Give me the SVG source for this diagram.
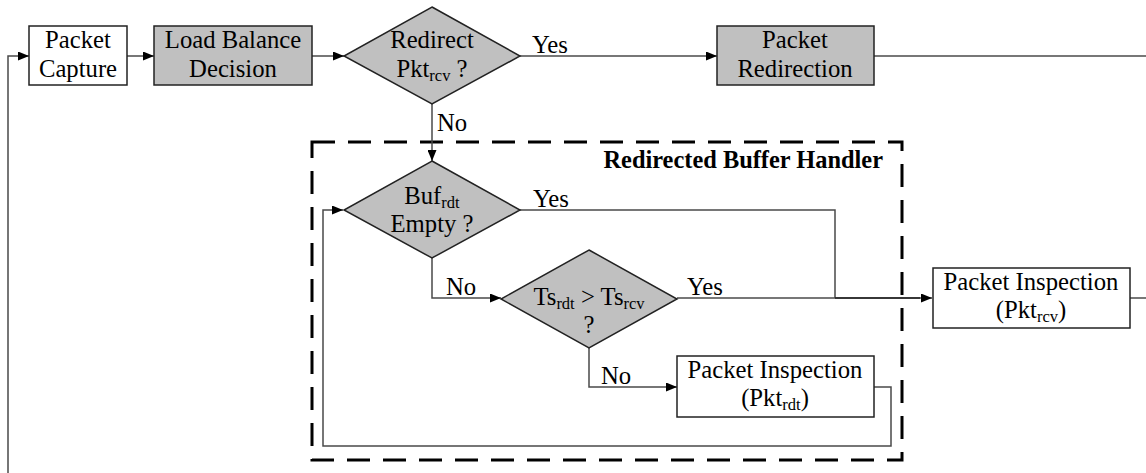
<svg xmlns="http://www.w3.org/2000/svg" width="1146" height="473" viewBox="0 0 1146 473">
<style>
text{font-family:'Liberation Serif','Times New Roman',Tinos,'DejaVu Serif',serif;font-size:24.7px;fill:#000}
.sub{font-size:16.5px}
.box{stroke:#222;stroke-width:1.5}
.g{fill:#c0c0c0}
.w{fill:#fff}
.c{fill:none;stroke:#4a4a4a;stroke-width:1.5}
.title{font-weight:bold;font-size:24.4px}
</style>
<defs>
<marker id="ar" markerUnits="userSpaceOnUse" markerWidth="11" markerHeight="9" refX="11" refY="4.5" orient="auto">
<path d="M0,0 L11,4.5 L0,9 z" fill="#000"/>
</marker>
</defs>
<rect id="container" x="312" y="142" width="590" height="318" fill="none" stroke="#000" stroke-width="3" stroke-dasharray="23,13"/>
<text class="title" x="883" y="168" text-anchor="end">Redirected Buffer Handler</text>
<g id="connectors">
<polyline class="c" points="8,473 8,56 29,56" marker-end="url(#ar)"/>
<line class="c" x1="127" y1="56" x2="154" y2="56" marker-end="url(#ar)"/>
<line class="c" x1="312" y1="56" x2="344" y2="56" marker-end="url(#ar)"/>
<line class="c" x1="520" y1="56" x2="717" y2="56" marker-end="url(#ar)"/>
<line class="c" x1="874" y1="56" x2="1146" y2="56"/>
<line class="c" x1="432" y1="104" x2="432" y2="161" marker-end="url(#ar)"/>
<polyline class="c" points="520,210 835,210 835,298"/>
<polyline class="c" points="432,258 432,298 501,298" marker-end="url(#ar)"/>
<line class="c" x1="677" y1="298" x2="932" y2="298" marker-end="url(#ar)"/>
<line class="c" x1="835" y1="298" x2="920" y2="298" style="stroke:#222"/>
<polyline class="c" points="589,348 589,387 677,387" marker-end="url(#ar)"/>
<polyline class="c" points="874,387 891,387 891,446 323,446 323,210 343,210" marker-end="url(#ar)"/>
<line class="c" x1="1130" y1="298" x2="1146" y2="298"/>
<text x="532" y="53">Yes</text>
<text x="437" y="131">No</text>
<text x="533" y="207">Yes</text>
<text x="446" y="295">No</text>
<text x="687" y="295">Yes</text>
<text x="601" y="384">No</text>
</g>
<g id="packet-capture">
<rect class="box w" x="29" y="26" width="98" height="59"/>
<text x="78" y="48" text-anchor="middle">Packet</text>
<text x="78" y="77" text-anchor="middle">Capture</text>
</g>
<g id="load-balance">
<rect class="box g" x="154" y="26" width="158" height="59"/>
<text x="233" y="48" text-anchor="middle">Load Balance</text>
<text x="233" y="77" text-anchor="middle">Decision</text>
</g>
<g id="redirect-decision">
<polygon class="box g" points="432,7 520,56 432,104 344,56"/>
<text x="432" y="48" text-anchor="middle">Redirect</text>
<text x="432" y="77" text-anchor="middle">Pkt<tspan class="sub" dy="4">rcv</tspan><tspan dy="-4"> ?</tspan></text>
</g>
<g id="packet-redirection">
<rect class="box g" x="717" y="26" width="157" height="59"/>
<text x="795" y="48" text-anchor="middle">Packet</text>
<text x="795" y="77" text-anchor="middle">Redirection</text>
</g>
<g id="buf-empty">
<polygon class="box g" points="432,161 520,210 432,258 344,210"/>
<text x="432" y="204" text-anchor="middle">Buf<tspan class="sub" dy="4">rdt</tspan></text>
<text x="432" y="232" text-anchor="middle">Empty ?</text>
</g>
<g id="ts-compare">
<polygon class="box g" points="589,250 677,299 589,348 501,299"/>
<text x="589" y="305" text-anchor="middle">Ts<tspan class="sub" dy="4">rdt</tspan><tspan dy="-4"> &gt; Ts</tspan><tspan class="sub" dy="4">rcv</tspan></text>
<text x="589" y="333" text-anchor="middle">?</text>
</g>
<g id="inspect-rdt">
<rect class="box w" x="677" y="356" width="197" height="61"/>
<text x="775" y="378" text-anchor="middle">Packet Inspection</text>
<text x="775" y="406" text-anchor="middle">(Pkt<tspan class="sub" dy="4">rdt</tspan><tspan dy="-4">)</tspan></text>
</g>
<g id="inspect-rcv">
<rect class="box w" x="933" y="268" width="197" height="60"/>
<text x="1031" y="290" text-anchor="middle">Packet Inspection</text>
<text x="1031" y="318" text-anchor="middle">(Pkt<tspan class="sub" dy="4">rcv</tspan><tspan dy="-4">)</tspan></text>
</g>
</svg>
